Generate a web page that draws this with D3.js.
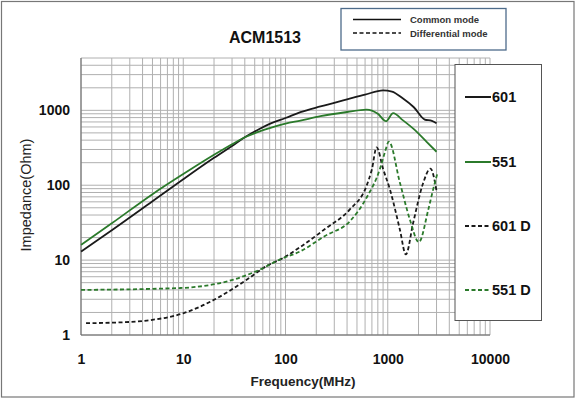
<!DOCTYPE html>
<html>
<head>
<meta charset="utf-8">
<script src="https://cdn.jsdelivr.net/npm/d3@7"></script>
<style>
  body { margin: 0; background: #fff; }
  text { font-family: 'Liberation Sans', Arial, sans-serif; }
</style>
</head>
<body>
<div id="chart"></div>
<script>
// frequency (MHz) / impedance (Ohm)
const cm601 = [[1, 13], [2, 25], [5, 61], [10, 120], [20, 232], [30, 335], [40, 437], [55, 560], [70, 660], [100, 790],
  [140, 946], [220, 1130], [400, 1400], [600, 1620], [900, 1845], [1100, 1780], [1400, 1450], [1800, 1100],
  [2300, 753], [2700, 725], [3000, 673]];
const cm551 = [[1, 16], [2, 31], [5, 76], [10, 141], [20, 255], [30, 353], [40, 437], [55, 520], [70, 578], [100, 664],
  [140, 730], [220, 835], [400, 950], [620, 1025], [800, 900], [960, 716], [1130, 918], [1400, 740], [1800, 560],
  [2400, 380], [3000, 280]];
const dm601 = [[1.12, 1.44], [2, 1.46], [4.4, 1.56], [10, 1.95], [20, 2.95], [42, 5.5], [65, 8.3], [95, 10.7], [138, 14.8],
  [243, 26], [426, 47.6], [620, 98], [700, 164], [778, 321], [902, 164], [1050, 88], [1313, 25.7], [1503, 11.9],
  [1774, 31.6], [2200, 103], [2618, 167], [3000, 84]];
const dm551 = [[1, 4.0], [9.3, 4.24], [31, 5.5], [56, 7.45], [88, 10.2], [138, 13], [243, 21], [426, 33], [620, 68],
  [837, 164], [937, 275], [1025, 382], [1313, 109], [1644, 35], [2014, 17.4], [2495, 47.6], [2780, 88], [3040, 140]];

const xTicks = [1, 10, 100, 1000, 10000];
const yTicks = [1, 10, 100, 1000];
const seriesNames = ['601', '551', '601 D', '551 D'];

const W = 576, H = 399;
const green = '#2b7a2b', black = '#1a1a1a';

const svg = d3.select('#chart').append('svg').attr('width', W).attr('height', H);

svg.append('rect').attr('x', 1.5).attr('y', 1.5).attr('width', W - 3.5).attr('height', H - 3.5)
  .attr('fill', '#fff').attr('stroke', '#777').attr('stroke-width', 1.2);

const x = d3.scaleLog().domain([1, 10000]).range([81, 490]);
const y = d3.scaleLog().domain([1, 5000]).range([335, 58]);

// grid
const xGrid = [];
[1, 10, 100, 1000].forEach((d) => { for (let k = 1; k <= 9; k++) xGrid.push(d * k); });
xGrid.push(10000);
const yGrid = [];
[1, 10, 100].forEach((d) => { for (let k = 1; k <= 9; k++) yGrid.push(d * k); });
[1000, 2000, 3000, 4000, 5000].forEach((v) => yGrid.push(v));

svg.append('g').selectAll('line').data(xGrid).enter().append('line')
  .attr('x1', (d) => x(d)).attr('x2', (d) => x(d)).attr('y1', y(5000)).attr('y2', y(1))
  .attr('stroke', '#b0b0b0').attr('stroke-width', 1);
svg.append('g').selectAll('line').data(yGrid).enter().append('line')
  .attr('x1', x(1)).attr('x2', x(10000)).attr('y1', (d) => y(d)).attr('y2', (d) => y(d))
  .attr('stroke', '#b0b0b0').attr('stroke-width', 1);

// axes
svg.append('line').attr('x1', x(1)).attr('x2', x(1)).attr('y1', y(5000)).attr('y2', y(1)).attr('stroke', '#666');
svg.append('line').attr('x1', x(1)).attr('x2', x(10000)).attr('y1', y(1)).attr('y2', y(1)).attr('stroke', '#666');

const xAxis = svg.append('g').attr('transform', 'translate(0,' + y(1) + ')')
  .call(d3.axisBottom(x).tickValues(xTicks).tickSize(0).tickPadding(19).tickFormat(d3.format('d')));
const yAxis = svg.append('g').attr('transform', 'translate(' + x(1) + ',0)')
  .call(d3.axisLeft(y).tickValues(yTicks).tickSize(0).tickPadding(11).tickFormat(d3.format('d')));
[xAxis, yAxis].forEach((a) => {
  a.select('.domain').remove();
  a.selectAll('text').style('font-family', "'Liberation Sans', Arial, sans-serif")
    .style('font-size', '14px').style('font-weight', 'bold').attr('fill', '#111');
});

svg.append('text').attr('x', 303).attr('y', 386).attr('text-anchor', 'middle')
  .style('font-size', '13.5px').style('font-weight', 'bold').attr('fill', '#222').text('Frequency(MHz)');
svg.append('text').attr('transform', 'translate(31,195) rotate(-90)').attr('text-anchor', 'middle')
  .style('font-size', '14.5px').attr('fill', '#222').text('Impedance(Ohm)');
svg.append('text').attr('x', 265).attr('y', 43).attr('text-anchor', 'middle')
  .style('font-size', '16px').style('font-weight', 'bold').attr('fill', '#111').text('ACM1513');

// curves
const line = d3.line().x((d) => x(d[0])).y((d) => y(d[1])).curve(d3.curveMonotoneX);
const series = [
  { data: cm601, color: black, dash: null },
  { data: cm551, color: green, dash: null },
  { data: dm601, color: black, dash: '4,2.5' },
  { data: dm551, color: green, dash: '4,2.5' }
];
series.forEach((s) => {
  svg.append('path').datum(s.data).attr('d', line).attr('fill', 'none')
    .attr('stroke', s.color).attr('stroke-width', 1.8)
    .attr('stroke-dasharray', s.dash);
});

// right legend
svg.append('rect').attr('x', 455).attr('y', 64.5).attr('width', 86.5).attr('height', 256)
  .attr('fill', '#fff').attr('stroke', '#555').attr('stroke-width', 1);
const legY = [97, 162, 226, 290];
seriesNames.forEach((name, i) => {
  svg.append('line').attr('x1', 465).attr('x2', 491).attr('y1', legY[i]).attr('y2', legY[i])
    .attr('stroke', series[i].color).attr('stroke-width', 2).attr('stroke-dasharray', series[i].dash);
  svg.append('text').attr('x', 492).attr('y', legY[i] + 5).style('font-size', '14.5px').style('font-weight', 'bold')
    .attr('fill', '#111').text(name);
});

// top legend
svg.append('rect').attr('x', 341).attr('y', 8.5).attr('width', 165).attr('height', 41.5)
  .attr('fill', '#fff').attr('stroke', '#4d6b8a').attr('stroke-width', 1.3);
[['Common mode', null, 19.5], ['Differential mode', '4,2.5', 33]].forEach((d) => {
  svg.append('line').attr('x1', 353).attr('x2', 401).attr('y1', d[2]).attr('y2', d[2])
    .attr('stroke', '#111').attr('stroke-width', 1.6).attr('stroke-dasharray', d[1]);
  svg.append('text').attr('x', 410).attr('y', d[2] + 3.5).style('font-size', '9.5px').style('font-weight', 'bold')
    .attr('fill', '#333').text(d[0]);
});
</script>
</body>
</html>
